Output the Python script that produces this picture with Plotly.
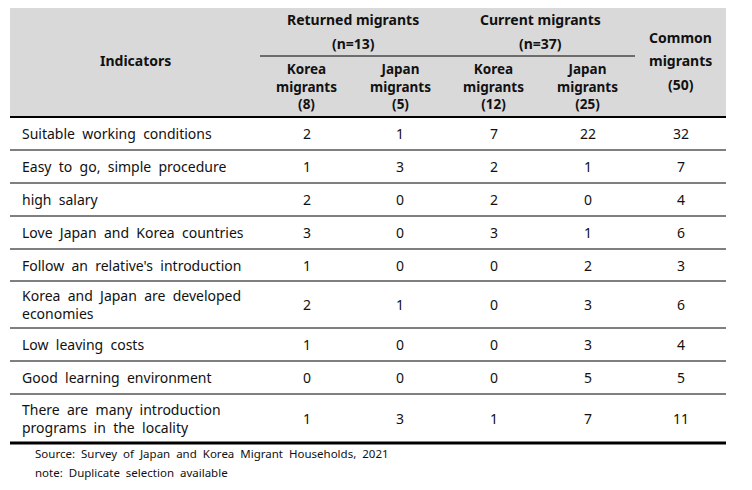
import plotly.graph_objects as go

# table content
indicators = [
    "Suitable working conditions",
    "Easy to go, simple procedure",
    "high salary",
    "Love Japan and Korea countries",
    "Follow an relative's introduction",
    "Korea and Japan are developed<br>economies",
    "Low leaving costs",
    "Good learning environment",
    "There are many introduction<br>programs in the locality",
]
returned_korea = [2, 1, 2, 3, 1, 2, 1, 0, 1]
returned_japan = [1, 3, 0, 0, 0, 1, 0, 0, 3]
current_korea = [7, 2, 2, 3, 0, 0, 0, 0, 1]
current_japan = [22, 1, 0, 1, 2, 3, 3, 5, 7]
common = [32, 7, 4, 6, 3, 6, 4, 5, 11]

group_labels = ["Returned migrants", "Current migrants"]
group_sizes = ["(n=13)", "(n=37)"]
sub_labels = ["Korea<br>migrants<br>(8)", "Japan<br>migrants<br>(5)",
              "Korea<br>migrants<br>(12)", "Japan<br>migrants<br>(25)"]
common_label = ["Common", "migrants", "(50)"]
notes = ["Source: Survey of Japan and Korea Migrant Households, 2021",
         "note: Duplicate selection available"]

# layout (pixel units of the page; the page body has an 8px margin)
W, H = 752, 490
PAD = 8
FONT = "Noto Sans, sans-serif"
col_edges = [10, 260, 353, 447, 540, 635, 726]
header_top, header_bottom = 4, 117
row_heights = [33, 33, 33, 33, 32, 47, 33, 33, 49]

row_tops = [header_bottom]
for h in row_heights:
    row_tops.append(row_tops[-1] + h)
table_bottom = row_tops[-1]
col_centers = [(a + b) / 2 for a, b in zip(col_edges[:-1], col_edges[1:])]

fig = go.Figure()
shapes = []
annotations = []


def wide(s):
    # the source text is justified with loose word spacing
    return s.replace(" ", "\u00a0\u00a0")


def txt(x, y, text, size=14, bold=False, xanchor="center", color="#111"):
    annotations.append(dict(
        x=x, y=y, xref="x", yref="y", text=f"<b>{text}</b>" if bold else text,
        showarrow=False, xanchor=xanchor, yanchor="middle", align="left" if xanchor == "left" else "center",
        font=dict(family=FONT, size=size, color=color)))


# header background and rules
shapes.append(dict(type="rect", x0=col_edges[0], x1=col_edges[-1], y0=header_top, y1=header_bottom,
                   fillcolor="#d9d9d9", line=dict(width=0), layer="below"))
shapes.append(dict(type="line", x0=col_edges[0], x1=col_edges[-1], y0=header_top, y1=header_top,
                   line=dict(color="black", width=3)))
shapes.append(dict(type="line", x0=col_edges[0], x1=col_edges[-1], y0=header_bottom, y1=header_bottom,
                   line=dict(color="black", width=2)))
shapes.append(dict(type="line", x0=col_edges[1], x1=col_edges[5], y0=56, y1=56,
                   line=dict(color="black", width=1)))
for y in row_tops[1:-1]:
    shapes.append(dict(type="line", x0=col_edges[0], x1=col_edges[-1], y0=y, y1=y,
                       line=dict(color="black", width=1)))
shapes.append(dict(type="line", x0=col_edges[0], x1=col_edges[-1], y0=table_bottom, y1=table_bottom,
                   line=dict(color="black", width=3)))

# header text
txt(col_centers[0], 60, "Indicators", bold=True)
for g, (lab, n) in enumerate(zip(group_labels, group_sizes)):
    xc = col_edges[1 + 2 * g + 1]
    txt(xc, 19, lab, bold=True)
    txt(xc, 43, n, bold=True)
for i, lab in enumerate(sub_labels):
    txt(col_centers[1 + i], 86.5, lab, size=13.5, bold=True)
for j, line in enumerate(common_label):
    txt(col_centers[5], 37 + 23.5 * j, line, bold=True)

# body
columns = [returned_korea, returned_japan, current_korea, current_japan, common]
for r, label in enumerate(indicators):
    yc = (row_tops[r] + row_tops[r + 1]) / 2
    txt(20, yc, wide(label), xanchor="left")
    for c, values in enumerate(columns):
        txt(col_centers[c + 1], yc, str(values[r]))

# footnotes
for k, note in enumerate(notes):
    txt(33, table_bottom + 10 + 19 * k, wide(note), size=11.5, xanchor="left")

fig.update_layout(
    width=W - 2 * PAD, height=H - 2 * PAD, margin=dict(l=0, r=0, t=0, b=0),
    paper_bgcolor="white", plot_bgcolor="white",
    xaxis=dict(range=[PAD, W - PAD], visible=False, fixedrange=True),
    yaxis=dict(range=[H - PAD, PAD], visible=False, fixedrange=True),
    shapes=shapes, annotations=annotations, showlegend=False,
)
fig.write_html("out.html", config={"displayModeBar": False})
